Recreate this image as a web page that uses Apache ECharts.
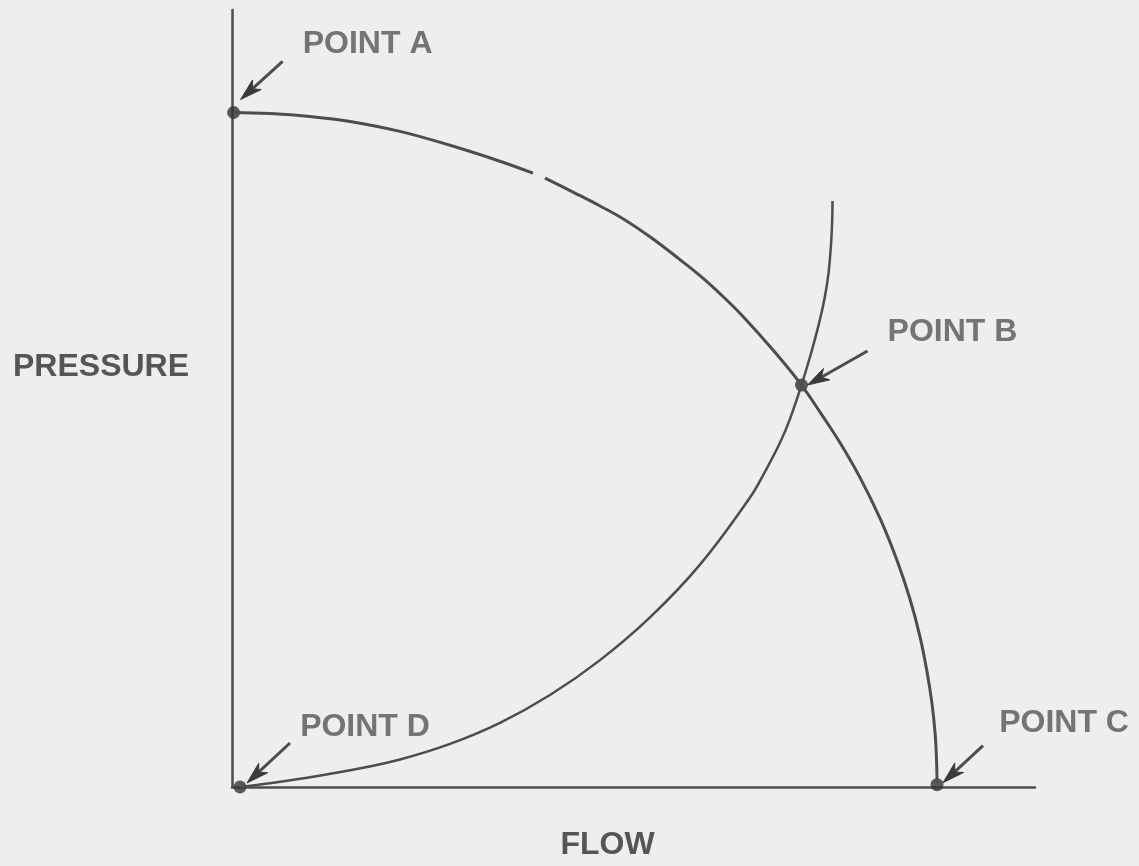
<!DOCTYPE html>
<html>
<head>
<meta charset="utf-8">
<script src="https://cdn.jsdelivr.net/npm/echarts@6/dist/echarts.min.js"></script>
<style>html,body{margin:0;padding:0;background:#eeeeee;}#chart{width:1139px;height:866px;}</style>
</head>
<body>
<div id="chart"></div>
<script>
// Pump curve (drawn with a small gap), relative flow vs relative pressure
const pumpCurveLeft = [[0.12,86.81],[4.73,86.68],[9.71,86.30],[14.69,85.66],[20.92,84.38],[27.15,82.59],[33.37,80.54],[37.48,79.00]];
const pumpCurveRight = [[38.98,78.36],[42.71,76.44],[45.83,74.78],[48.94,72.98],[52.05,70.81],[55.17,68.37],[58.28,65.81],[61.02,63.25],[63.64,60.56],[67.62,55.95],[70.92,51.73],[73.54,47.76],[75.72,44.30],[78.21,39.82],[80.70,34.57],[82.81,29.19],[84.43,24.20],[85.68,19.33],[86.55,14.85],[87.17,10.76],[87.55,7.04],[87.73,3.71],[87.80,0.51]];
// System curve
const systemCurve = [[1.0,0],[4.73,0.48],[8.47,1.06],[14.69,2.15],[20.92,3.55],[27.15,5.55],[33.37,8.26],[39.60,11.84],[45.83,16.33],[52.05,21.83],[58.28,28.62],[64.51,37.26],[66.38,40.59],[68.24,44.30],[69.49,47.38],[70.92,51.73],[72.04,55.57],[73.04,59.41],[73.79,62.87],[74.28,66.07],[74.60,69.91],[74.75,73.11],[74.78,75.42]];
// Marked points
const pointNames = ['POINT A','POINT B','POINT C','POINT D'];
const pointFlow = [0.2, 70.92, 87.8, 1.0];
const pointPressure = [86.81, 51.73, 0.3, 0];
const axisNames = {x:'FLOW', y:'PRESSURE'};

// styling: label and arrow offsets (pixels) relative to each point
const labelOffsets = [[134,-68],[151,-53],[127,-61],[125,-60]];
const arrowStyle = [
  {tail:[49,-51], head:[7,-13]},
  {tail:[66,-34], head:[6,0]},
  {tail:[46,-39], head:[6,-2]},
  {tail:[50,-44], head:[7,-4]}
];

const ink = '#4d4d4d';
const textFont = 'Liberation Sans, Arial, sans-serif';
const pointData = pointNames.map((n,i)=>({
  name:n, value:[pointFlow[i], pointPressure[i]],
  label:{offset:labelOffsets[i]}
}));

const chart = echarts.init(document.getElementById('chart'));
chart.setOption({
  backgroundColor:'#eeeeee',
  animation:false,
  grid:{left:232, right:104, top:10, bottom:75},
  graphic:[{type:'text', left:13, top:351, silent:true,
    style:{text:axisNames.y, fontFamily:textFont, fontSize:32, fontWeight:'bold', fill:'#555'}}],
  xAxis:{type:'value', min:0, max:100, name:axisNames.x, nameLocation:'middle', nameGap:42,
    nameTextStyle:{fontFamily:textFont, fontSize:32, fontWeight:'bold', color:'#555', padding:[0,52,0,0]},
    axisLine:{show:true, lineStyle:{color:ink, width:2.5}}, axisTick:{show:false}, axisLabel:{show:false}, splitLine:{show:false}},
  yAxis:{type:'value', min:0, max:100,
    axisLine:{show:true, lineStyle:{color:ink, width:2.5}}, axisTick:{show:false}, axisLabel:{show:false}, splitLine:{show:false}},
  series:[
    {type:'line', data:pumpCurveLeft, smooth:0.4, symbol:'none', lineStyle:{color:ink, width:3}},
    {type:'line', data:pumpCurveRight, smooth:0.4, symbol:'none', lineStyle:{color:ink, width:3}},
    {type:'line', data:systemCurve, smooth:0.4, symbol:'none', lineStyle:{color:ink, width:2.5}},
    {type:'custom', data:pointNames.map((n,i)=>[pointFlow[i], pointPressure[i]]), clip:false,
      renderItem:function(params, api){
        const p = api.coord([api.value(0), api.value(1)]);
        const a = arrowStyle[params.dataIndex];
        const tx = p[0]+a.tail[0], ty = p[1]+a.tail[1];
        const hx = p[0]+a.head[0], hy = p[1]+a.head[1];
        let ux = hx-tx, uy = hy-ty; const len = Math.hypot(ux,uy); ux/=len; uy/=len;
        const nx = -uy, ny = ux, L = 22, W = 6.5;
        const bx = hx-ux*L, by = hy-uy*L;
        const mx = hx-ux*L*0.72, my = hy-uy*L*0.72;
        return {type:'group', children:[
          {type:'line', shape:{x1:tx,y1:ty,x2:mx,y2:my}, style:{stroke:ink, lineWidth:3}},
          {type:'polygon', shape:{points:[[hx,hy],[bx+nx*W,by+ny*W],[mx,my],[bx-nx*W,by-ny*W]]}, style:{fill:'#3a3a3a', stroke:'#3a3a3a', lineWidth:1}}
        ]};
      }},
    {type:'scatter', data:pointData, symbol:'circle', symbolSize:13, clip:false,
      itemStyle:{color:'#333'},
      label:{show:true, formatter:'{b}', position:'inside', align:'center', verticalAlign:'middle',
        fontFamily:textFont, fontSize:32, fontWeight:'bold', color:'#555'}}
  ]
});
</script>
</body>
</html>
